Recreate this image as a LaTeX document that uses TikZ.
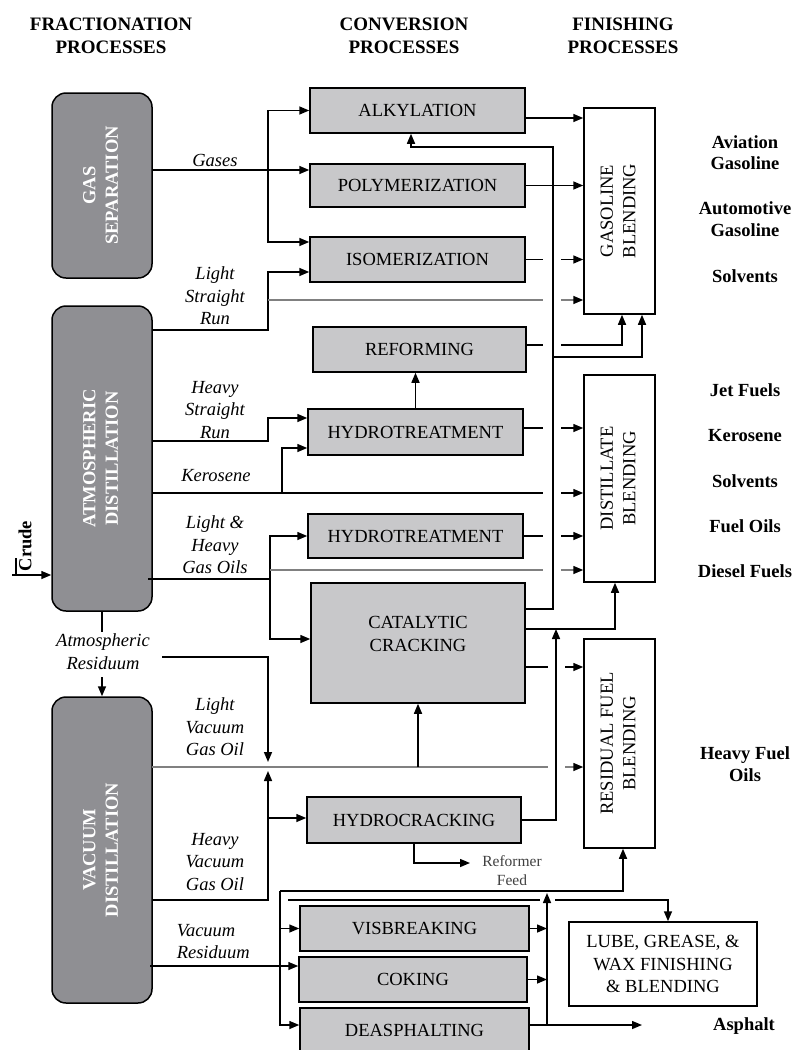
\documentclass[tikz,border=0pt]{standalone}
\usepackage{fontspec}
\setmainfont{Liberation Serif}
\usepackage{graphicx}
\usetikzlibrary{arrows.meta}
\definecolor{fracgrey}{HTML}{8F8F93}
\definecolor{convgrey}{HTML}{C8C8CA}
\newcommand{\rottext}[1]{\rotatebox{90}{\begin{tabular}{@{}c@{}}#1\end{tabular}}}

\begin{document}
\begin{tikzpicture}[x=1pt, y=-1pt, line width=1.5pt,
  font=\fontsize{18.5}{22.5}\selectfont,
  arr/.style={-{Triangle[length=10pt,width=8pt,black]}},
  greyline/.style={draw=black!50},
  fracbox/.style={draw, fill=fracgrey, rounded corners=14pt, text=white,
    font=\fontsize{18.5}{22.5}\selectfont\bfseries, inner sep=0pt},
  convbox/.style={draw, fill=convgrey, inner sep=0pt},
  blendbox/.style={draw, fill=white, inner sep=0pt},
  lbl/.style={font=\fontsize{18.5}{22.5}\selectfont\itshape, align=center, inner sep=0pt},
  prod/.style={font=\fontsize{18.5}{21.5}\selectfont\bfseries, align=center, inner sep=0pt},
  head/.style={font=\fontsize{19}{23}\selectfont\bfseries, align=center, inner sep=0pt},
  feed/.style={font=\fontsize{15.5}{19}\selectfont, text=black!75, align=center, inner sep=0pt}]
\useasboundingbox (0,0) rectangle (795,1050);

% headings
\node[head] (hFrac) at (111,35.5) {FRACTIONATION\\PROCESSES};
\node[head] (hConv) at (404,35.5) {CONVERSION\\PROCESSES};
\node[head] (hFin) at (623,35.5) {FINISHING\\PROCESSES};

% fractionation
\node[fracbox, minimum width=100pt, minimum height=185pt] (gas) at (102,185.5) {\rottext{GAS\\SEPARATION}};
\node[fracbox, minimum width=100pt, minimum height=305pt] (atm) at (102,458.5) {\rottext{ATMOSPHERIC\\DISTILLATION}};
\node[fracbox, minimum width=100pt, minimum height=306pt] (vac) at (102,850) {\rottext{VACUUM\\DISTILLATION}};

% conversion
\node[convbox, minimum width=215pt, minimum height=45pt] (alky) at (417.5,110.5) {ALKYLATION};
\node[convbox, minimum width=215pt, minimum height=43pt] (poly) at (417.5,185.5) {POLYMERIZATION};
\node[convbox, minimum width=215pt, minimum height=45pt] (isom) at (417.5,259.5) {ISOMERIZATION};
\node[convbox, minimum width=213pt, minimum height=45pt] (reform) at (419.5,349.5) {REFORMING};
\node[convbox, minimum width=215pt, minimum height=46pt] (hydA) at (415.5,432) {HYDROTREATMENT};
\node[convbox, minimum width=215pt, minimum height=44pt] (hydB) at (415.5,536) {HYDROTREATMENT};
\node[convbox, minimum width=214pt, minimum height=120pt, align=center] (cat) at (418,643) {CATALYTIC\\CRACKING\\[-4pt]\rule{0pt}{14pt}};
\node[convbox, minimum width=214pt, minimum height=46pt] (hcrack) at (414,820) {HYDROCRACKING};
\node[convbox, minimum width=229pt, minimum height=45pt] (visb) at (414.5,928.5) {VISBREAKING};
\node[convbox, minimum width=228pt, minimum height=45pt] (coke) at (413,979.5) {COKING};
\node[convbox, minimum width=229pt, minimum height=44pt] (deasph) at (414.5,1030) {DEASPHALTING};

% finishing
\node[blendbox, minimum width=71pt, minimum height=206pt] (gasb) at (619.5,211) {\rottext{GASOLINE\\BLENDING}};
\node[blendbox, minimum width=71pt, minimum height=207pt] (distb) at (619.5,478.5) {\rottext{DISTILLATE\\BLENDING}};
\node[blendbox, minimum width=71pt, minimum height=209pt] (resb) at (619.5,743.5) {\rottext{RESIDUAL FUEL\\BLENDING}};
\node[blendbox, minimum width=188pt, minimum height=84pt, align=center] (lube) at (663,964) {LUBE, GREASE, \&\\WAX FINISHING\\\& BLENDING};

% products
\node[prod] (pAv) at (745,152.5) {Aviation\\Gasoline};
\node[prod] (pAu) at (745,219) {Automotive\\Gasoline};
\node[prod] (pSo) at (745,276) {Solvents};
\node[prod] (pJet) at (745,390) {Jet Fuels};
\node[prod] (pKe) at (745,436) {Kerosene};
\node[prod] (pSo2) at (745,481) {Solvents};
\node[prod] (pFo) at (745,526) {Fuel Oils};
\node[prod] (pDi) at (745,571) {Diesel Fuels};
\node[prod] (pHf) at (745,764) {Heavy Fuel\\Oils};
\node[prod] (pAs) at (744,1026) {Asphalt};

% stream labels
\node[lbl] (lGas) at (215,160) {Gases};
\node[lbl] (lLSR) at (215,296) {Light\\Straight\\Run};
\node[lbl] (lHSR) at (215,410) {Heavy\\Straight\\Run};
\node[lbl] (lKer) at (216,476) {Kerosene};
\node[lbl] (lGO) at (215,545) {Light \&\\Heavy\\Gas Oils};
\node[lbl] (lAR) at (103,651.5) {Atmospheric\\Residuum};
\node[lbl] (lLVGO) at (215,727) {Light\\Vacuum\\Gas Oil};
\node[lbl] (lHVGO) at (215,862) {Heavy\\Vacuum\\Gas Oil};
\node[lbl, align=left, anchor=west] (lVR) at (176,941.5) {Vacuum\\Residuum};
\node[feed] (rfT) at (512,871) {Reformer\\Feed};
\node[font=\fontsize{18.5}{22.5}\selectfont\bfseries, rotate=90, inner sep=0pt] (crudeT) at (25,546) {Crude};

% points
\coordinate (gapL) at (543,0);
\coordinate (gapR) at (561,0);
\coordinate (gapL2) at (548,0);
\coordinate (gapR2) at (565,0);
\coordinate (gapL3) at (540,0);
\coordinate (gapR3) at (555,0);
\coordinate (crude) at (12,575);
\coordinate (crT) at (16,558);
\coordinate (gJ) at (268,170);
\coordinate (oLSR) at (152,330);
\coordinate (lsrT) at (268,272);
\coordinate (lsr) at (268,300);
\coordinate (oHSR) at (152,441);
\coordinate (hsrT) at (268,418);
\coordinate (oKer) at (152,493);
\coordinate (kerJ) at (282,493);
\coordinate (kerT) at (282,448);
\coordinate (oGO) at (148,579);
\coordinate (goJ) at (270,579);
\coordinate (goB) at (270,570);
\coordinate (oAR) at (162,657);
\coordinate (arTop) at (100,632);
\coordinate (arBot) at (100,677);
\coordinate (arJ) at (268,657);
\coordinate (vJ) at (268,767);
\coordinate (oLVGO) at (152,767);
\coordinate (oHVGO) at (152,900);
\coordinate (hvB) at (268,818);
\coordinate (oVR) at (150,966);
\coordinate (vrTop) at (280,891);
\coordinate (lbS) at (288,900);
\coordinate (busTop) at (553,147);
\coordinate (busG) at (553,357);
\coordinate (hcUp) at (556,629);
\coordinate (riser) at (547,893);
\coordinate (rf) at (470,863);
\coordinate (asph) at (642,1025);
\coordinate (aOut) at ([yshift=-7.5pt]alky.east);
\coordinate (isoA) at ([yshift=17.5pt]isom.west);
\coordinate (rOut) at ([yshift=4.5pt]reform.east);
\coordinate (hAOut) at ([yshift=4pt]hydA.east);
\coordinate (cOutA) at ([yshift=34pt]cat.east);
\coordinate (cOutB) at ([yshift=14pt]cat.east);
\coordinate (cOutC) at ([yshift=-24pt]cat.east);
\coordinate (catIn) at ([yshift=4pt]cat.west);
\coordinate (alkyIn) at ([xshift=-6.5pt]alky.south);
\coordinate (gbA) at ([xshift=2.5pt]gasb.south);
\coordinate (gbB) at ([xshift=22.5pt]gasb.south);
\coordinate (dbA) at ([xshift=-4.5pt]distb.south);
\coordinate (rbA) at ([xshift=3.5pt]resb.south);
\coordinate (lbT) at ([xshift=5pt]lube.north);
\coordinate (dIn) at ([yshift=5pt]deasph.west);
\coordinate (dOut) at ([yshift=5pt]deasph.east);

% crude
\draw[arr] (crude) -- (crude -| atm.west);
\draw (crT) -- (crT |- crude);

% gases
\draw[arr] (gas.east |- gJ) -- (gJ -| poly.west);
\draw[arr] (gJ) |- (alky.west);
\draw[arr] (gJ) |- (isoA);

% straight run
\draw[arr] (oLSR) -| (lsrT) -- (lsrT -| isom.west);
\draw[greyline] (lsr) -- (lsr -| gapL);
\draw[greyline, arr] (lsr -| gapR) -- (lsr -| gasb.west);
\draw[arr] (oHSR) -| (hsrT) -- (hsrT -| hydA.west);

% kerosene
\draw (oKer) -- (oKer -| gapL);
\draw[arr] (oKer -| gapR) -- (oKer -| distb.west);
\draw[arr] (kerJ) -- (kerT) -- (kerT -| hydA.west);

% gas oils
\draw (oGO) -- (goJ);
\draw[arr] (goJ) |- (hydB.west);
\draw[arr] (goJ) |- (catIn);
\draw[greyline] (goB) -- (goB -| gapL);
\draw[greyline, arr] (goB -| gapR) -- (goB -| distb.west);

% to gasoline blending
\draw[arr] (aOut) -- (aOut -| gasb.west);
\draw[arr] (poly.east) -- (poly.east -| gasb.west);
\draw (isom.east) -- (isom.east -| gapL);
\draw[arr] (isom.east -| gapR) -- (isom.east -| gasb.west);
\draw (rOut) -- (rOut -| gapL);
\draw[arr] (rOut -| gapR) -| (gbA);
\draw[arr] (busG) -| (gbB);

% catalytic cracking
\draw[arr] (cOutA) -| (busTop) -| (alkyIn);
\draw[arr] (cOutB) -| (dbA);
\draw (cOutC) -- (cOutC -| gapL2);
\draw[arr] (cOutC -| gapR2) -- (cOutC -| resb.west);

% hydrotreating
\draw[arr] (hydA.north) -- (hydA.north |- reform.south);
\draw (hAOut) -- (hAOut -| gapL);
\draw[arr] (hAOut -| gapR) -- (hAOut -| distb.west);
\draw (hydB.east) -- (hydB.east -| gapL);
\draw[arr] (hydB.east -| gapR) -- (hydB.east -| distb.west);

% atmospheric residuum
\draw (atm.south) -- (atm.south |- arTop);
\draw[arr] (vac.north |- arBot) -- (vac.north);
\draw[arr] (oAR) -- (arJ) -- ([yshift=5pt]vJ);

% vacuum gas oils
\draw[greyline] (oLVGO) -- (oLVGO -| gapL2);
\draw[greyline, arr] (oLVGO -| gapR2) -- (oLVGO -| resb.west);
\draw[arr] (oLVGO -| cat.south) -- (cat.south);
\draw[arr] (oHVGO) -| ([yshift=-4pt]vJ);
\draw[arr] (hvB) -- (hvB -| hcrack.west);

% hydrocracking
\draw[arr] (hcrack.south) |- (rf);
\draw[arr] (hcrack.east) -| (hcUp);

% vacuum residuum
\draw[arr] (oVR) -- (oVR -| coke.west);
\draw[arr] (vrTop) |- (dIn);
\draw[arr] (vrTop |- visb.west) -- (visb.west);
\draw[arr] (vrTop) -| (rbA);
\draw (lbS) -- (lbS -| gapL3);
\draw[arr] (lbS -| gapR3) -| (lbT);

% residue outputs
\draw[arr] (visb.east) -- (visb.east -| riser);
\draw[arr] (coke.east) -- (coke.east -| riser);
\draw[arr] (dOut) -- (asph);
\draw[arr] (dOut -| riser) -- (riser);
\end{tikzpicture}
\end{document}
